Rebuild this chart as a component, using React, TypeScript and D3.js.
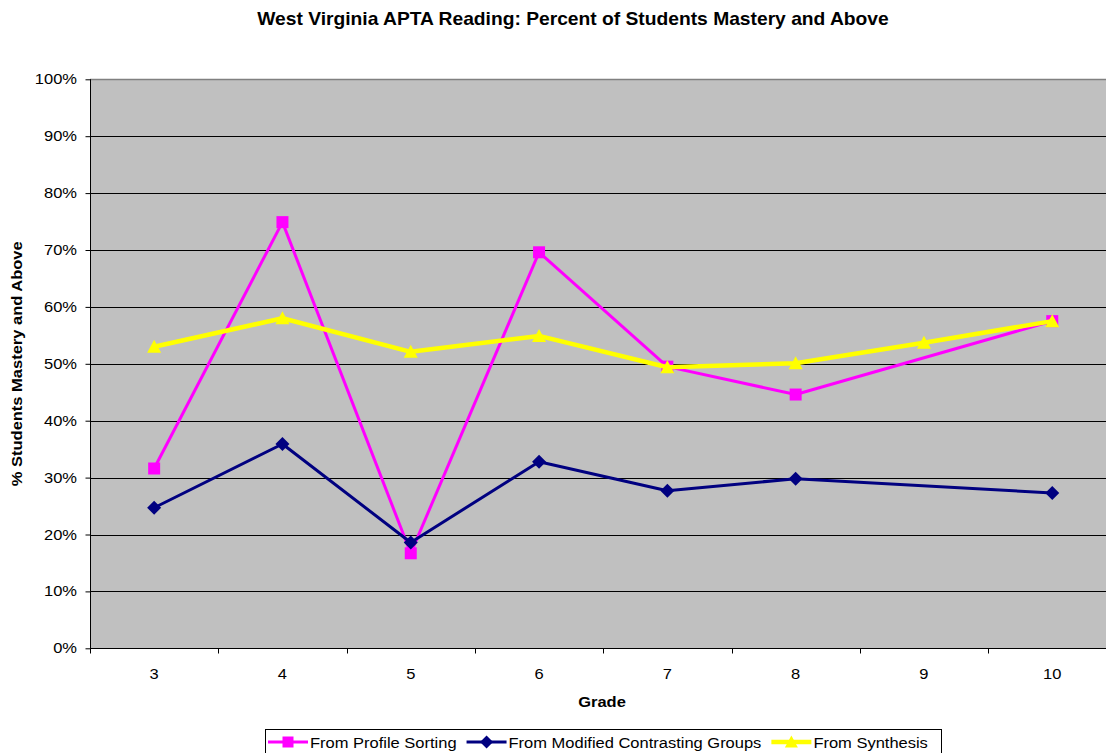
import React, { useEffect, useRef } from 'react';
import * as d3 from 'd3';

const grades = ['3', '4', '5', '6', '7', '8', '9', '10'];
const profileSorting = [31.6, 74.9, 16.7, 69.6, 49.5, 44.6, null, 57.5];
const contrastingGroups = [24.7, 35.9, 18.6, 32.8, 27.7, 29.8, null, 27.3];
const synthesis = [53.0, 58.0, 52.1, 54.9, 49.4, 50.1, 53.7, 57.5];
const yTicks = [0, 10, 20, 30, 40, 50, 60, 70, 80, 90, 100];

const seriesList = [
  { name: 'From Profile Sorting', values: profileSorting, color: '#ff00ff', width: 3, marker: 'square' },
  { name: 'From Modified Contrasting Groups', values: contrastingGroups, color: '#000080', width: 3, marker: 'diamond' },
  { name: 'From Synthesis', values: synthesis, color: '#ffff00', width: 4.5, marker: 'triangle' },
];

const W = 1106;
const H = 753;
const FONT = 'Arial, "Liberation Sans", Helvetica, sans-serif';
const SX = 1.1; // the original's text is a little wide

const markerPath = (type: string, size: number) => {
  const s = size / 2;
  if (type === 'square') return `M${-s},${-s}H${s}V${s}H${-s}Z`;
  if (type === 'diamond') return `M0,${-s - 1}L${s + 1},0L0,${s + 1}L${-s - 1},0Z`;
  return `M0,${-s - 1}L${s + 1},${s}L${-s - 1},${s}Z`;
};

const App = () => {
  const svgRef = useRef<SVGSVGElement>(null);

  useEffect(() => {
    const svg = d3.select(svgRef.current);
    svg.selectAll('*').remove();

    const left = 90;
    const top = 79.3;
    const bottom = 648.3;
    const band = 128.3;

    const x = d3.scaleBand().domain(grades).range([left, left + band * grades.length]).padding(0);
    const y = d3.scaleLinear().domain([0, 100]).range([bottom, top]);
    const cx = (g: string) => (x(g) as number) + x.bandwidth() / 2;

    const label = (tx: number, ty: number, txt: string, size: number, anchor: string, bold = false, rot = 0) =>
      svg.append('text')
        .attr('transform', `translate(${tx},${ty}) rotate(${rot}) scale(${SX},1)`)
        .attr('text-anchor', anchor)
        .style('font-family', FONT).style('font-size', `${size}px`)
        .style('font-weight', bold ? 'bold' : 'normal')
        .attr('fill', '#000')
        .text(txt);

    // plot background
    svg.append('rect')
      .attr('x', left).attr('y', top)
      .attr('width', band * grades.length).attr('height', bottom - top)
      .attr('fill', '#c0c0c0');

    // gridlines
    svg.append('g').selectAll('line')
      .data(yTicks.filter(t => t > 0 && t < 100))
      .enter().append('line')
      .attr('x1', left).attr('x2', W)
      .attr('y1', d => Math.round(y(d)) + 0.5).attr('y2', d => Math.round(y(d)) + 0.5)
      .attr('stroke', '#000').attr('stroke-width', 1);

    svg.append('line')
      .attr('x1', left).attr('x2', W)
      .attr('y1', Math.round(top) + 0.5).attr('y2', Math.round(top) + 0.5)
      .attr('stroke', '#808080').attr('stroke-width', 1.5);

    // y axis
    const yAxis = svg.append('g')
      .attr('transform', `translate(${left + 0.5},0)`)
      .call(d3.axisLeft(y).tickValues(yTicks).tickSize(5).tickFormat(() => ''));
    yAxis.select('.domain').attr('stroke', '#000').attr('d', `M0,${top}V${bottom}`);
    yTicks.forEach(t => label(left - 13, y(t) + 5, `${t}%`, 15, 'end'));

    // x axis
    const xAxis = svg.append('g')
      .attr('transform', `translate(0,${Math.round(bottom) + 0.5})`);
    xAxis.append('line')
      .attr('x1', left).attr('x2', W).attr('stroke', '#000');
    xAxis.selectAll('.tick')
      .data(d3.range(grades.length + 1))
      .enter().append('line')
      .attr('x1', i => Math.round(left + i * band) + 0.5).attr('x2', i => Math.round(left + i * band) + 0.5)
      .attr('y1', 0).attr('y2', 5).attr('stroke', '#000');
    grades.forEach(g => label(cx(g), 679, g, 15, 'middle'));

    // series
    seriesList.forEach(s => {
      const pts = grades
        .map((g, i) => ({ g, v: s.values[i] }))
        .filter(p => p.v !== null) as { g: string; v: number }[];
      const line = d3.line<{ g: string; v: number }>().x(p => cx(p.g)).y(p => y(p.v));
      svg.append('path')
        .attr('d', line(pts))
        .attr('fill', 'none')
        .attr('stroke', s.color)
        .attr('stroke-width', s.width)
        .attr('stroke-linejoin', 'round');
      svg.append('g').selectAll('path')
        .data(pts)
        .enter().append('path')
        .attr('transform', p => `translate(${cx(p.g)},${y(p.v)})`)
        .attr('d', markerPath(s.marker, 12))
        .attr('fill', s.color);
    });

    // titles
    label(573, 25, 'West Virginia APTA Reading: Percent of Students Mastery and Above', 17.5, 'middle', true);
    label(602, 707, 'Grade', 15, 'middle', true);
    label(22, (top + bottom) / 2, '% Students Mastery and Above', 15, 'middle', true, -90);

    // legend
    const legend = svg.append('g');
    legend.append('rect')
      .attr('x', 265.5).attr('y', 729.5).attr('width', 676).attr('height', 26)
      .attr('fill', '#fff').attr('stroke', '#000');
    let lx = 268;
    seriesList.forEach(s => {
      legend.append('line')
        .attr('x1', lx).attr('x2', lx + 40).attr('y1', 742).attr('y2', 742)
        .attr('stroke', s.color).attr('stroke-width', s.width);
      legend.append('path')
        .attr('transform', `translate(${lx + 20},742)`)
        .attr('d', markerPath(s.marker, 11))
        .attr('fill', s.color);
      const t = svg.append('text')
        .attr('transform', `translate(${lx + 42},748) scale(${SX},1)`)
        .style('font-family', FONT).style('font-size', '15px')
        .text(s.name);
      const w = (t.node() as SVGTextElement).getComputedTextLength() * SX;
      lx += 42 + w + 10;
    });
  }, []);

  return (
    <svg
      ref={svgRef}
      width={W}
      height={H}
      style={{ position: 'absolute', left: 0, top: 0, background: '#fff' }}
    />
  );
};

export default App;
